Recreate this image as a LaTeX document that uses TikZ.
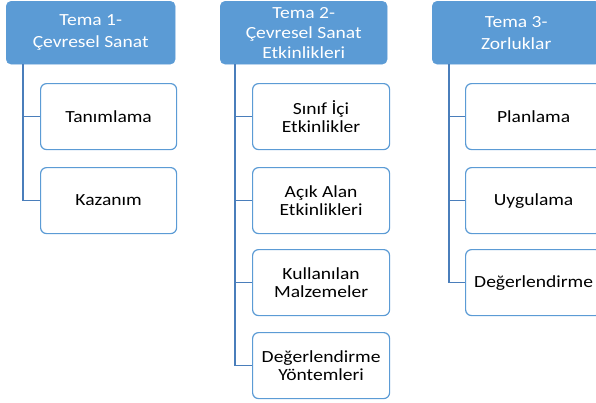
\documentclass[tikz,border=0pt]{standalone}
\usepackage{fontspec}
\setmainfont{Carlito}[FakeStretch=1.15]
\definecolor{hdrblue}{HTML}{5B9BD5}
\definecolor{boxblue}{HTML}{5B9BD5}
\definecolor{lineblue}{HTML}{4A7EBB}
\begin{document}
\begin{tikzpicture}[x=1pt,y=-1pt,
  hdr/.style={draw=hdrblue, fill=hdrblue, rounded corners=5pt, anchor=north west,
    inner sep=0pt, align=center, text=white, minimum height=63pt,
    font=\fontsize{17}{22}\selectfont},
  child/.style={draw=boxblue, line width=1.2pt, fill=white, rounded corners=6pt,
    anchor=north west, inner sep=0pt, align=center, text=black,
    minimum width=136pt, minimum height=66pt, font=\fontsize{17}{18}\selectfont},
  conn/.style={draw=lineblue, line width=1.3pt}]
\useasboundingbox (0,0) rectangle (596,402);
% headers
\node[hdr, minimum width=169pt] (h1) at (6,1) {Tema 1-\\Çevresel Sanat};
\node[hdr, minimum width=167pt, font=\fontsize{17}{20}\selectfont] (h2) at (220,1) {Tema 2-\\Çevresel Sanat\\Etkinlikleri};
\node[hdr, minimum width=168pt] (h3) at (432,1) {Tema 3-\\Zorluklar};
% column 1
\node[child] (c11) at (40,83) {Tanımlama};
\node[child] (c12) at (40,167) {Kazanım};
% column 2
\node[child, minimum width=137pt] (c21) at (252,83) {Sınıf İçi\\Etkinlikler};
\node[child, minimum width=137pt] (c22) at (252,167) {Açık Alan\\Etkinlikleri};
\node[child, minimum width=137pt] (c23) at (252,249) {Kullanılan\\Malzemeler};
\node[child, minimum width=137pt] (c24) at (252,332) {Değerlendirme\\Yöntemleri};
% column 3
\node[child] (c31) at (465,83) {Planlama};
\node[child] (c32) at (465,167) {Uygulama};
\node[child] (c33) at (465,249) {Değerlendirme};
% connectors
\draw[conn] ([xshift=17pt]h1.south west) |- (c11.west);
\draw[conn] ([xshift=17pt]h1.south west) |- (c12.west);
\draw[conn] ([xshift=15pt]h2.south west) |- (c21.west);
\draw[conn] ([xshift=15pt]h2.south west) |- (c22.west);
\draw[conn] ([xshift=15pt]h2.south west) |- (c23.west);
\draw[conn] ([xshift=15pt]h2.south west) |- (c24.west);
\draw[conn] ([xshift=17pt]h3.south west) |- (c31.west);
\draw[conn] ([xshift=17pt]h3.south west) |- (c32.west);
\draw[conn] ([xshift=17pt]h3.south west) |- (c33.west);
\end{tikzpicture}
\end{document}
